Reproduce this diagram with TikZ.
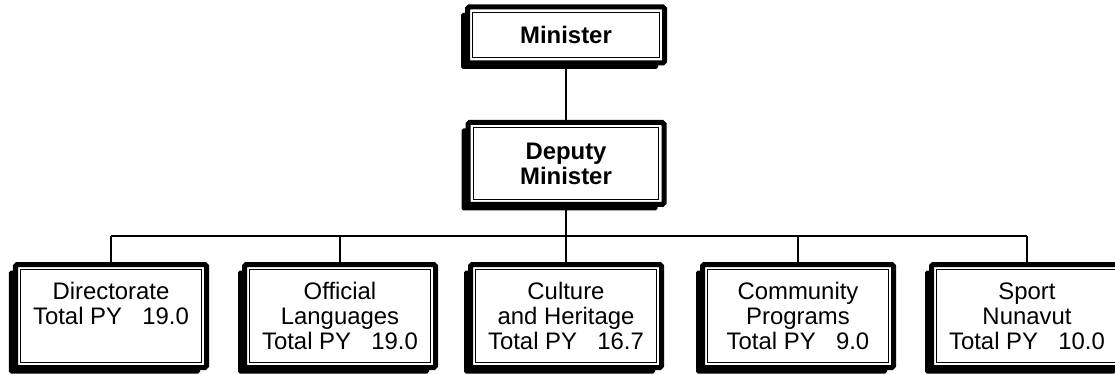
\documentclass[tikz,border=0pt]{standalone}
\usepackage{fontspec}
\setmainfont{Liberation Sans}
\usetikzlibrary{shadows, calc}
\newcommand{\totpy}[1]{Total PY\hspace{0.85em}#1}
\tikzset{
  post/.style={draw=black, line width=0.1cm, fill=white, rounded corners=1pt,
               align=center, inner sep=0pt,
               font=\fontsize{13.6}{14.2}\selectfont,
               drop shadow={shadow xshift=-0.13cm, shadow yshift=-0.12cm,
                            fill=black, opacity=1},
               path picture={\draw[line width=0.026cm, sharp corners]
                 ([shift={(0.105cm,-0.105cm)}]path picture bounding box.north west)
                 rectangle
                 ([shift={(-0.105cm,0.105cm)}]path picture bounding box.south east);}},
  chief/.style={post, font=\fontsize{13.6}{14.2}\selectfont\bfseries},
  unit/.style={post, minimum width=3.82cm, minimum height=2.06cm},
  wire/.style={line width=0.026cm},
}

\begin{document}
\begin{tikzpicture}
\useasboundingbox (0,0) rectangle (22.3,-7.48);
% top of the chart
\node[chief, minimum width=3.94cm, minimum height=1.12cm] (min) at (11.32,-0.70) {Minister};
\node[chief, minimum width=3.92cm, minimum height=1.64cm] (dm) at (11.32,-3.27) {Deputy\\Minister};
% divisions
\node[unit] (dir) at (2.22,-6.32) {Directorate\\\totpy{19.0}\\~};
\node[unit] (ofl) at (6.80,-6.32) {Official\\Languages\\\totpy{19.0}};
\node[unit] (cul) at (11.32,-6.32) {Culture\\and Heritage\\\totpy{16.7}};
\node[unit] (cpr) at (15.96,-6.32) {Community\\Programs\\\totpy{9.0}};
\node[unit] (spn) at (20.54,-6.32) {Sport\\Nunavut\\\totpy{10.0}};
\coordinate (bus) at (11.32,-4.72);
\draw[wire] (min) -- (dm);
\draw[wire] (dm.south) -- (bus);
\draw[wire] (dir.north |- bus) -- (spn.north |- bus);
\foreach \u in {dir,ofl,cul,cpr,spn}
  \draw[wire] (\u.north) -- (\u.north |- bus);
\end{tikzpicture}
\end{document}
